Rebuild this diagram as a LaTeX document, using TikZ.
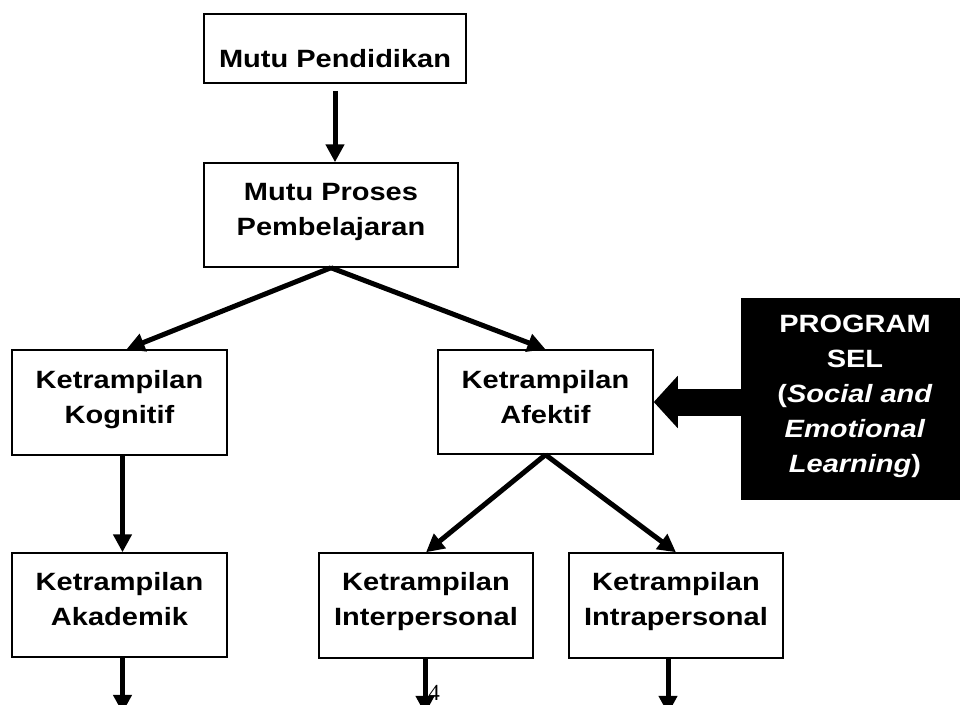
\documentclass[tikz,border=0pt]{standalone}
\usepackage{fontspec}
\setmainfont{Liberation Sans}[FakeStretch=1.16]
\newfontfamily\pagenumfont{Liberation Serif}
\usetikzlibrary{arrows.meta}

\tikzset{
  box/.style={draw, line width=1.5pt, inner sep=0pt, align=center, anchor=base,
    font=\fontsize{25}{35}\selectfont\bfseries},
  flow/.style={->, line width=5pt},
}

\begin{document}
\begin{tikzpicture}[x=1pt,y=-1pt,>={Triangle[length=18pt,width=18pt]}]
  \clip (0,0) rectangle (960,704);

  \node[box,minimum width=262pt,text height=53pt,text depth=16pt] (pend) at (335,67) {Mutu Pendidikan};
  \node[box,minimum width=254pt,text height=72pt,text depth=32pt] (proses) at (331,235) {Mutu Proses\\Pembelajaran};
  \node[box,minimum width=215pt,text height=73pt,text depth=32pt] (kog) at (119.5,423) {Ketrampilan\\Kognitif};
  \node[box,minimum width=215pt,text height=73pt,text depth=31pt] (afek) at (545.5,423) {Ketrampilan\\Afektif};
  \node[box,minimum width=215pt,text height=72pt,text depth=32pt] (akad) at (119.5,625) {Ketrampilan\\Akademik};
  \node[box,minimum width=214pt,text height=72pt,text depth=33pt] (inter) at (426,625) {Ketrampilan\\Interpersonal};
  \node[box,minimum width=214pt,text height=72pt,text depth=33pt] (intra) at (676,625) {Ketrampilan\\Intrapersonal};
  \node[box,fill=black,text=white,minimum width=226pt,text height=173pt,text depth=27pt] (sel) at (855,472)
    {PROGRAM\\SEL\\(\textit{Social and}\\\textit{Emotional}\\\textit{Learning})};

  % arus ke bawah
  \draw[flow,shorten <=7pt] (pend.south) -- (pend.south |- proses.north);
  \draw[flow] (proses.south) -- ([xshift=7pt]kog.north);
  \draw[flow] (proses.south) -- (afek.north);
  \draw[flow] ([xshift=3pt]kog.south) -- ([xshift=3pt]akad.north);
  \draw[flow] (afek.south) -- (inter.north);
  \draw[flow] (afek.south) -- (intra.north);

  \path (akad.south) ++(3,55) coordinate (akadout);
  \path (inter.south) ++(-1,55) coordinate (interout);
  \path (intra.south) ++(-8,55) coordinate (intraout);
  \draw[flow] ([xshift=3pt]akad.south) -- (akadout);
  \draw[flow] ([xshift=-1pt]inter.south) -- (interout);
  \draw[flow] ([xshift=-8pt]intra.south) -- (intraout);

  % panah besar dari program SEL
  \draw[line width=27pt,-{Triangle[length=24pt,width=51pt]}] (sel.west |- afek.east) -- (afek.east);

  \node[font=\pagenumfont\fontsize{23}{23}\selectfont,anchor=base,inner sep=0pt] (hal) at (434,700) {4};
\end{tikzpicture}
\end{document}
